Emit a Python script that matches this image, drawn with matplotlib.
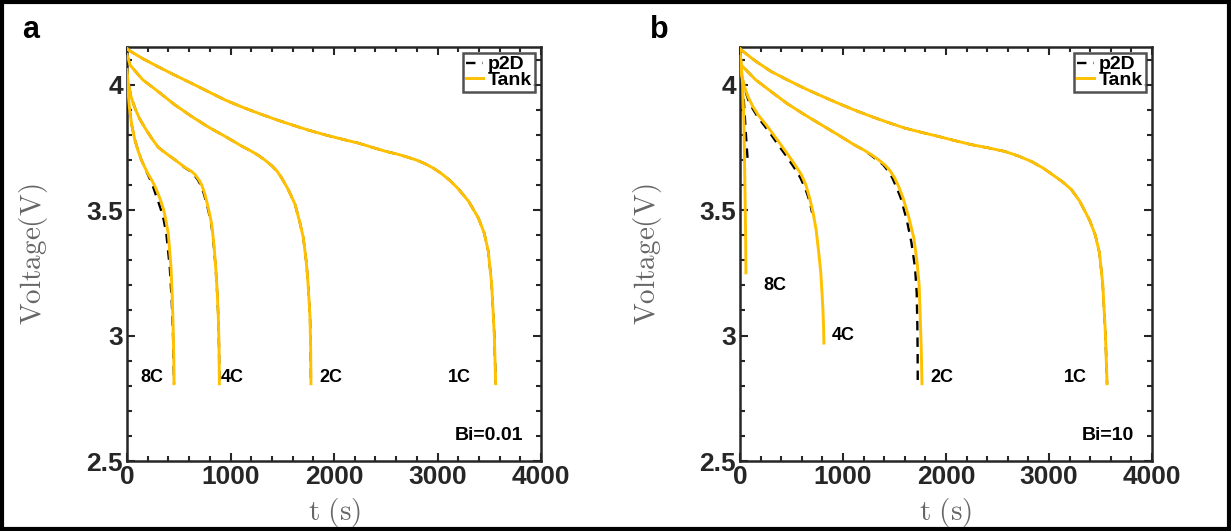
import numpy as np
import matplotlib
matplotlib.use("Agg")
import matplotlib.pyplot as plt
from matplotlib.patches import Rectangle
from matplotlib.ticker import MultipleLocator

plt.rcParams["font.family"] = ["Liberation Sans", "DejaVu Sans"]
plt.rcParams["mathtext.fontset"] = "cm"

TANK_COLOR = "#FFC000"
DARK = "#262626"

# ── Panel a: Bi = 0.01 ──────────────────────────────────────────────────────
a_1c_t = [0, 13, 150, 302, 460, 625, 790, 947, 1110, 1269, 1430, 1591, 1750, 1913,
          2075, 2235, 2370, 2500, 2620, 2718, 2800, 2879, 2960, 3040, 3120, 3200, 3300,
          3394, 3450, 3490, 3523, 3548, 3562]
a_1c_v = [4.145, 4.138, 4.104, 4.071, 4.038, 4.005, 3.971, 3.939, 3.911, 3.886, 3.862,
          3.840, 3.819, 3.800, 3.783, 3.767, 3.750, 3.734, 3.722, 3.710, 3.699, 3.685,
          3.667, 3.645, 3.618, 3.585, 3.535, 3.469, 3.41, 3.337, 3.205, 3.007, 2.808]
a_2c_t = [0, 29, 150, 302, 460, 625, 790, 947, 1108, 1200, 1269, 1333, 1398, 1450,
          1494, 1560, 1623, 1670, 1703, 1730, 1745, 1760, 1768, 1774, 1777]
a_2c_v = [4.12, 4.078, 4.02, 3.972, 3.92, 3.873, 3.83, 3.794, 3.755, 3.735, 3.718,
          3.699, 3.677, 3.655, 3.628, 3.58, 3.523, 3.45, 3.39, 3.30, 3.231, 3.13, 3.073,
          2.95, 2.808]
a_4c_t = [0, 10, 40, 77, 120, 174, 240, 302, 380, 464, 560, 620, 657, 695, 722, 753,
          790, 818, 840, 857, 872, 882, 889, 892]
a_4c_v = [4.06, 4.01, 3.95, 3.906, 3.865, 3.827, 3.785, 3.75, 3.725, 3.70, 3.67, 3.655,
          3.642, 3.62, 3.60, 3.562, 3.50, 3.443, 3.36, 3.271, 3.17, 3.073, 2.95, 2.808]
a_8c_t = [0, 8, 25, 45, 75, 109, 140, 174, 205, 238, 270, 300, 319, 351, 375, 399, 425,
          438, 447, 452, 454]
a_8c_v = [4.04, 3.98, 3.90, 3.84, 3.78, 3.734, 3.698, 3.668, 3.643, 3.62, 3.595, 3.565,
          3.545, 3.505, 3.46, 3.404, 3.271, 3.139, 3.006, 2.90, 2.808]
# p2D: on top of the tank model except small shifts at 4C / 8C
a_4c_p2d_t = [0, 10, 40, 77, 120, 174, 240, 302, 380, 464, 555, 612, 645, 685, 712,
              745, 785, 815, 838, 856, 871, 882, 889, 892]
a_4c_p2d_v = a_4c_v
a_8c_p2d_t = [0, 8, 25, 45, 75, 109, 140, 174, 200, 225, 250, 275, 292, 325, 355, 380,
              413, 432, 444, 450, 454]
a_8c_p2d_v = a_8c_v

# ── Panel b: Bi = 10 ────────────────────────────────────────────────────────
b_1c_t = [0, 13, 150, 304, 465, 628, 790, 952, 1110, 1275, 1440, 1599, 1760, 1923,
          2085, 2246, 2410, 2570, 2700, 2829, 2945, 3056, 3140, 3217, 3298, 3394, 3450,
          3490, 3522, 3548, 3564]
b_1c_v = [4.145, 4.138, 4.094, 4.052, 4.018, 3.985, 3.955, 3.926, 3.899, 3.873, 3.849,
          3.827, 3.810, 3.794, 3.777, 3.761, 3.748, 3.734, 3.716, 3.694, 3.667, 3.635,
          3.61, 3.582, 3.536, 3.46, 3.40, 3.33, 3.205, 3.007, 2.808]
b_2c_t = [0, 13, 150, 304, 460, 628, 790, 952, 1110, 1200, 1275, 1340, 1405, 1455,
          1502, 1545, 1583, 1640, 1689, 1720, 1740, 1752, 1760, 1767]
b_2c_v = [4.12, 4.078, 4.02, 3.972, 3.924, 3.88, 3.84, 3.80, 3.76, 3.74, 3.721, 3.702,
          3.681, 3.658, 3.628, 3.59, 3.549, 3.47, 3.387, 3.29, 3.20, 3.05, 2.95, 2.808]
b_2c_p2d_t = [0, 13, 150, 304, 460, 628, 790, 952, 1110, 1200, 1265, 1330, 1390, 1440,
              1480, 1520, 1560, 1620, 1665, 1700, 1716, 1722, 1725, 1726]
b_2c_p2d_v = [4.12, 4.078, 4.02, 3.972, 3.924, 3.88, 3.84, 3.80, 3.76, 3.74, 3.721,
              3.70, 3.681, 3.655, 3.628, 3.59, 3.55, 3.46, 3.37, 3.27, 3.17, 3.05, 2.93,
              2.81]
b_4c_t = [0, 15, 45, 80, 125, 175, 240, 304, 385, 466, 530, 595, 640, 676, 710, 740,
          765, 785, 798, 806, 812, 815]
b_4c_v = [4.10, 4.04, 3.99, 3.95, 3.913, 3.88, 3.847, 3.813, 3.767, 3.721, 3.683,
          3.642, 3.60, 3.549, 3.49, 3.42, 3.33, 3.25, 3.16, 3.10, 3.03, 2.97]
b_4c_p2d_t = [0, 15, 45, 80, 125, 175, 240, 304, 380, 460, 525, 585, 630, 665, 690, 700]
b_4c_p2d_v = [4.10, 4.04, 3.985, 3.94, 3.903, 3.87, 3.835, 3.80, 3.755, 3.71, 3.67,
              3.63, 3.59, 3.55, 3.51, 3.49]
b_8c_t = [0, 10, 26, 39, 49, 55, 58]
b_8c_v = [4.14, 4.09, 4.00, 3.84, 3.575, 3.40, 3.25]
b_8c_p2d_t = [0, 20, 40, 55, 68, 75]
b_8c_p2d_v = [4.14, 4.02, 3.92, 3.82, 3.74, 3.70]

rates = ["1C", "2C", "4C", "8C"]
a_label_pos = [(3207, 2.833), (1971, 2.833), (1015, 2.833), (241, 2.833)]
b_label_pos = [(3253, 2.833), (1961, 2.833), (1000, 3.0), (340, 3.198)]

panels = [
    {
        "tank": [(a_1c_t, a_1c_v), (a_2c_t, a_2c_v), (a_4c_t, a_4c_v), (a_8c_t, a_8c_v)],
        "p2d": [(a_1c_t, a_1c_v), (a_2c_t, a_2c_v), (a_4c_p2d_t, a_4c_p2d_v),
                (a_8c_p2d_t, a_8c_p2d_v)],
        "labels": a_label_pos,
        "bi": "Bi=0.01",
        "tag": "a",
    },
    {
        "tank": [(b_1c_t, b_1c_v), (b_2c_t, b_2c_v), (b_4c_t, b_4c_v), (b_8c_t, b_8c_v)],
        "p2d": [(b_1c_t, b_1c_v), (b_2c_p2d_t, b_2c_p2d_v), (b_4c_p2d_t, b_4c_p2d_v),
                (b_8c_p2d_t, b_8c_p2d_v)],
        "labels": b_label_pos,
        "bi": "Bi=10",
        "tag": "b",
    },
]

fig = plt.figure(figsize=(12.31, 5.31), dpi=100)
axes = [fig.add_axes([0.1032, 0.1318, 0.3363, 0.7797]),
        fig.add_axes([0.6011, 0.1318, 0.3347, 0.7797])]
tag_x = [22 / 1231, 650 / 1231]

for ax, p, tx in zip(axes, panels, tag_x):
    for i, (t, v) in enumerate(p["p2d"]):
        ax.plot(t, v, color="black", lw=1.7, dashes=(4, 3),
                label="p2D" if i == 0 else None, zorder=2)
    for i, (t, v) in enumerate(p["tank"]):
        ax.plot(t, v, color=TANK_COLOR, lw=2.1, solid_joinstyle="round",
                label="Tank" if i == 0 else None, zorder=3)

    for name, (lx, ly) in zip(rates, p["labels"]):
        ax.text(lx, ly, name, ha="center", va="center", fontsize=13,
                fontweight="bold", color="black")
    ax.text(3830, 2.6, p["bi"], ha="right", va="center", fontsize=14,
            fontweight="bold", color="black")

    ax.set_xlim(0, 4000)
    ax.set_ylim(2.5, 4.15)
    ax.set_xticks([0, 1000, 2000, 3000, 4000])
    ax.set_yticks([2.5, 3, 3.5, 4])
    ax.set_yticklabels(["2.5", "3", "3.5", "4"])
    ax.xaxis.set_minor_locator(MultipleLocator(200))
    ax.yaxis.set_minor_locator(MultipleLocator(0.1))
    ax.tick_params(which="both", direction="in", top=True, right=True,
                   color=DARK, width=1.5)
    ax.tick_params(which="major", length=6, labelsize=19, labelcolor=DARK, pad=3)
    ax.tick_params(which="minor", length=3.5)
    for lab in ax.get_xticklabels() + ax.get_yticklabels():
        lab.set_fontweight("bold")
    for s in ax.spines.values():
        s.set_linewidth(1.8)
        s.set_color(DARK)

    ax.set_ylabel(r"$\mathrm{Voltage(V)}$", fontsize=21, color="#666666")
    ax.set_xlabel(r"$\mathrm{t\ (s)}$", fontsize=21, color="#666666")
    ax.yaxis.set_label_coords(-0.185, 0.5)
    ax.xaxis.set_label_coords(0.5, -0.085)

    leg = ax.legend(loc="upper right", frameon=True, fancybox=False,
                    edgecolor=DARK, handlelength=0.9, handletextpad=0.25,
                    borderpad=0.15, labelspacing=-0.1, borderaxespad=0.3,
                    prop={"weight": "bold", "size": 14})
    leg.get_frame().set_linewidth(1.8)

    fig.text(tx, 1 - 30 / 531, p["tag"], fontsize=22, fontweight="bold",
             ha="left", va="center")

fig.patches.append(Rectangle((0.002, 0.004), 0.996, 0.992, transform=fig.transFigure,
                             fill=False, edgecolor="black", linewidth=3))

fig.savefig("out.png", dpi=100)
